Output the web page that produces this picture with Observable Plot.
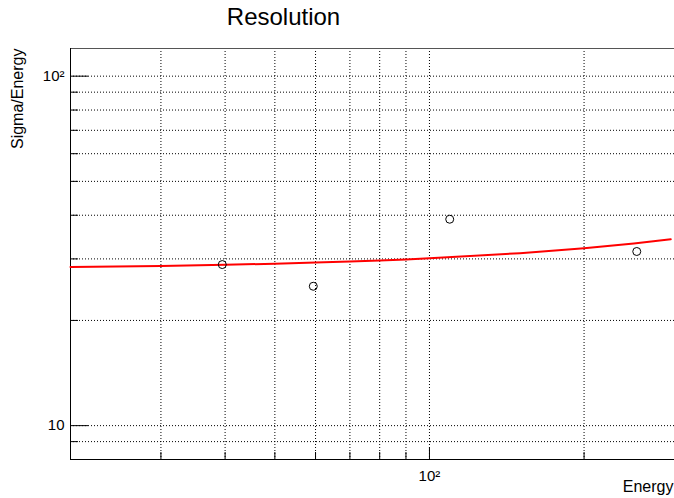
<!DOCTYPE html>
<html><head><meta charset="utf-8">
<script src="https://cdn.jsdelivr.net/npm/d3@7"></script>
<script src="https://cdn.jsdelivr.net/npm/@observablehq/plot@0.6"></script>
<style>
body{margin:0;background:#fff;}
svg{display:block;}
</style>
</head><body><div id="chart"></div>
<script>
// Data
const energy = [39.5, 59.4, 109.5, 253.3];
const sigmaOverEnergy = [28.9, 25.05, 38.96, 31.5];
// Red fit curve, read at several energies
const fitEnergy = [20, 30, 40, 50, 60, 70, 80, 90, 100, 150, 200, 250, 295];
const fitValue = [28.45, 28.65, 28.86, 29.07, 29.28, 29.48, 29.69, 29.9, 30.11, 31.15, 32.18, 33.22, 34.16];
// Axes
const xDomain = [20, 300];
const yDomain = [8, 120];
const xMinorTicks = [30, 40, 50, 60, 70, 80, 90, 200];
const xMajorTicks = [100];
const yMinorTicks = [9, 20, 30, 40, 50, 60, 70, 80, 90];
const yMajorTicks = [10, 100];
const xGrid = [30, 40, 50, 60, 70, 80, 90, 100, 200];
const yGrid = [9, 10, 20, 30, 40, 50, 60, 70, 80, 90, 100];
const xTickLabels = {100: "10²"};
const yTickLabels = {10: "10", 100: "10²"};
const title = "Resolution";
const xTitle = "Energy";
const yTitle = "Sigma/Energy";

const points = energy.map((e, i) => ({e, v: sigmaOverEnergy[i]}));
const fit = fitEnergy.map((e, i) => ({e, v: fitValue[i]}));

const chart = Plot.plot({
  width: 674,
  height: 498,
  marginTop: 48,
  marginBottom: 39,
  marginLeft: 70,
  marginRight: 0,
  style: {fontFamily: "'Liberation Sans', Arial, Helvetica, sans-serif", background: "#fff", color: "#000"},
  x: {type: "log", domain: xDomain, axis: null, label: null},
  y: {type: "log", domain: yDomain, axis: null, label: null},
  marks: [
    Plot.ruleY(yGrid, {stroke: "#000", strokeDasharray: "1,2", strokeWidth: 1}),
    Plot.ruleX(xGrid, {stroke: "#000", strokeDasharray: "1,2", strokeWidth: 1}),
    // frame
    Plot.ruleY([yDomain[1]], {stroke: "#555", strokeWidth: 1}),
    Plot.ruleX([xDomain[0]], {stroke: "#000", strokeWidth: 1}),
    Plot.ruleY([yDomain[0]], {stroke: "#000", strokeWidth: 1}),
    // ticks (inward)
    Plot.axisY(yMinorTicks, {anchor: "left", tickSize: -8, text: null, label: null, stroke: "#000"}),
    Plot.axisY(yMajorTicks, {anchor: "left", tickSize: -18, text: null, label: null, stroke: "#000"}),
    Plot.axisX(xMinorTicks, {anchor: "bottom", tickSize: -7, text: null, label: null, stroke: "#000"}),
    Plot.axisX(xMajorTicks, {anchor: "bottom", tickSize: -12, text: null, label: null, stroke: "#000"}),
    // tick labels
    Plot.axisY(yMajorTicks, {anchor: "left", tickSize: 0, tickPadding: 6, fontSize: 15, label: null, tickFormat: d => yTickLabels[d], fill: "#000"}),
    Plot.axisX(xMajorTicks, {anchor: "bottom", tickSize: 0, tickPadding: 11, fontSize: 15, label: null, tickFormat: d => xTickLabels[d], fill: "#000"}),
    // fit curve
    Plot.line(fit, {x: "e", y: "v", stroke: "#ff0000", strokeWidth: 2}),
    // data points
    Plot.dot(points, {x: "e", y: "v", r: 4, stroke: "#000", fill: "none", strokeWidth: 1}),
    // titles
    Plot.text([title], {frameAnchor: "top-left", text: d => d, dx: 213, dy: -24, fontSize: 24, textAnchor: "middle", lineAnchor: "bottom", fill: "#000"}),
    Plot.text([xTitle], {frameAnchor: "bottom-right", text: d => d, dx: -1, dy: 32, fontSize: 16, textAnchor: "end", lineAnchor: "bottom", fill: "#000"}),
    Plot.text([yTitle], {frameAnchor: "top-left", text: d => d, dx: -48, dy: 0, rotate: -90, fontSize: 16, textAnchor: "end", lineAnchor: "bottom", fill: "#000"})
  ]
});
document.getElementById("chart").appendChild(chart);
</script>
</body></html>
